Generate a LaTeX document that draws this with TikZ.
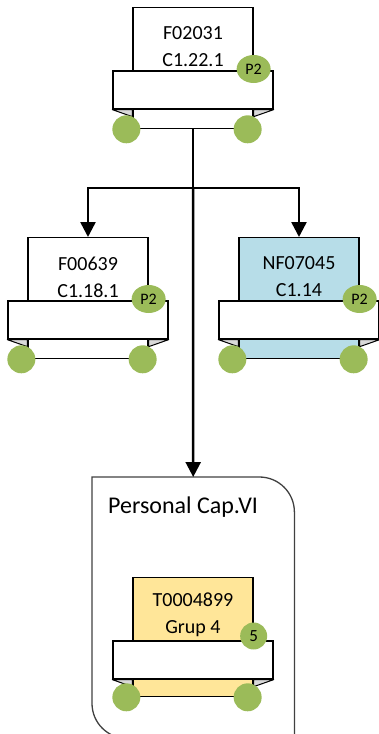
\documentclass[tikz,border=0pt]{standalone}
\usepackage{fontspec}
\setmainfont{Carlito}
\usetikzlibrary{arrows.meta,positioning,shapes.geometric}
\definecolor{leafgreen}{HTML}{9BBB59}
\definecolor{foldgray}{HTML}{D9D9D9}
\definecolor{paleblue}{HTML}{B7DDE8}
\definecolor{paleyellow}{HTML}{FFE699}
\definecolor{framegray}{HTML}{404040}
\newcommand{\carddeck}[1]{%
  \node[band] (#1-band) at ([yshift=-83pt]#1.north) {};
  \filldraw[fold] (#1-band.south west) -- (#1-band.south west -| #1.west) -- ([yshift=-7pt]#1-band.south west -| #1.west) -- cycle;
  \filldraw[fold] (#1-band.south east) -- (#1-band.south east -| #1.east) -- ([yshift=-7pt]#1-band.south east -| #1.east) -- cycle;
  \node[wheel] (#1-wl) at ([xshift=-6pt]#1.south west) {};
  \node[wheel] (#1-wr) at ([xshift=-6pt]#1.south east) {};
}

\begin{document}
\begin{tikzpicture}[x=1pt, y=1pt, >={Triangle[length=15pt,width=15pt]},
  cardback/.style={draw, line width=1.3pt, minimum width=120pt, minimum height=121pt, anchor=north, inner sep=0pt},
  cardtext/.style={align=center, font=\fontsize{20}{27}\selectfont, inner sep=0pt},
  band/.style={draw, fill=white, line width=1.3pt, minimum width=160pt, minimum height=38pt, inner sep=0pt},
  fold/.style={fill=foldgray, draw, line width=1pt, line join=round},
  wheel/.style={circle, fill=leafgreen, minimum size=28pt, inner sep=0pt},
  tag/.style={ellipse, fill=leafgreen, minimum width=34pt, minimum height=28pt, inner sep=0pt, font=\fontsize{16}{16}\selectfont},
  dot/.style={circle, fill=leafgreen, minimum size=27pt, inner sep=0pt, font=\fontsize{17}{17}\selectfont},
  link/.style={line width=2.5pt},
  frame/.style={draw=framegray, line width=1.3pt}]
\useasboundingbox (0,0) rectangle (378,-734);

\node[cardback] (f02031) at (193,-7) {};
\node[cardtext] (f02031-txt) at ([yshift=-40pt]f02031.north) {F02031\\C1.22.1};
\carddeck{f02031}
\node[tag] (f02031-tag) at ([yshift=-62pt]f02031.north east) {P2};

\node[cardback] (f00639) at (88,-237) {};
\node[cardtext] (f00639-txt) at ([yshift=-40pt]f00639.north) {F00639\\C1.18.1};
\carddeck{f00639}
\node[tag] (f00639-tag) at ([yshift=-62pt]f00639.north east) {P2};

\node[cardback, fill=paleblue] (nf07045) at (299,-237) {};
\node[cardtext] (nf07045-txt) at ([yshift=-40pt]nf07045.north) {NF07045\\C1.14};
\carddeck{nf07045}
\node[tag] (nf07045-tag) at ([yshift=-62pt]nf07045.north east) {P2};

\node[minimum width=202pt, minimum height=261pt, anchor=north west, inner sep=0pt] (capvi) at (92,-477) {};
\draw[frame] (capvi.north west) -- ([xshift=-35pt]capvi.north east) arc[start angle=90, end angle=0, radius=35pt]
  -- (capvi.south east) -- ([xshift=35pt]capvi.south west) arc[start angle=270, end angle=180, radius=35pt] -- cycle;
\node[anchor=west, font=\fontsize{24}{24}\selectfont, inner sep=0pt] (capvi-txt) at ([xshift=16pt,yshift=-30pt]capvi.north west) {Personal Cap.VI};

\node[cardback, fill=paleyellow, minimum height=119pt] (t0004899) at (193,-577) {};
\node[cardtext] (t0004899-txt) at ([yshift=-38pt]t0004899.north) {T0004899\\Grup 4};
\carddeck{t0004899}
\node[dot] (t0004899-tag) at ([yshift=-59pt]t0004899.north east) {5};

\coordinate (split) at (193,-188);
\draw[link] (f02031.south) -- (split);
\draw[link,->] (split) -| (f00639.north);
\draw[link,->] (split) -| (nf07045.north);
\draw[link,->] (split) -- (capvi.north);
\end{tikzpicture}
\end{document}
